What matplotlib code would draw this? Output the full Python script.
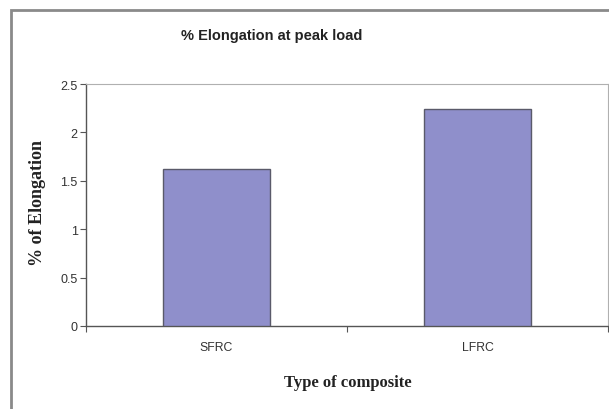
import matplotlib
matplotlib.use("Agg")
import matplotlib.pyplot as plt
from matplotlib.patches import Rectangle
from matplotlib.ticker import FixedLocator, NullFormatter

categories = ["SFRC", "LFRC"]
elongation = [1.62, 2.24]
yticks = [0, 0.5, 1, 1.5, 2, 2.5]
ytick_labels = ["0", "0.5", "1", "1.5", "2", "2.5"]

W, H = 609, 410
fig = plt.figure(figsize=(W / 100, H / 100), dpi=100)
fig.patch.set_facecolor("white")

# outer chart-area frame
fig.patches.append(Rectangle((11 / W, -0.05), 1.2, 1 - 11 / H + 0.05,
                             transform=fig.transFigure, fill=False,
                             edgecolor="#8a8a8a", linewidth=2.0))

ax = fig.add_axes([86 / W, 83 / H, (608 - 86) / W, (327 - 85) / H])
x = list(range(len(categories)))
ax.bar(x, elongation, width=0.41, color="#8f8fcb", edgecolor="#5a5a6a",
       linewidth=1.0, zorder=3)

ax.set_xlim(-0.5, 1.5)
ax.set_ylim(0, 2.5)
ax.set_yticks(yticks)
ax.set_yticklabels(ytick_labels, fontname="Liberation Sans", fontsize=9,
                   color="#333333")
ax.set_xticks(x)
ax.set_xticklabels(categories, fontname="Liberation Sans", fontsize=8.8,
                   color="#333333")
ax.tick_params(axis="x", which="major", length=0, pad=11)
ax.xaxis.set_minor_locator(FixedLocator([-0.5, 0.5, 1.5]))
ax.xaxis.set_minor_formatter(NullFormatter())
ax.tick_params(axis="x", which="minor", length=4, width=0.8, color="#555555")
ax.tick_params(axis="y", length=4, width=0.8, color="#555555", pad=2)

for s in ["left", "bottom"]:
    ax.spines[s].set_color("#555555")
    ax.spines[s].set_linewidth(1.0)
for s in ["top", "right"]:
    ax.spines[s].set_color("#b0b0b0")
    ax.spines[s].set_linewidth(0.8)

fig.text(348 / W, 1 - 383 / H, "Type of composite",
         fontname="Liberation Serif", fontweight="bold", fontsize=12,
         color="#222222", ha="center", va="center")
fig.text(37 / W, 1 - 203 / H, "% of Elongation",
         fontname="Liberation Serif", fontweight="bold", fontsize=13,
         color="#222222", ha="center", va="center", rotation=90)

fig.text(272 / W, 1 - 36 / H, "% Elongation at peak load",
         fontname="Liberation Sans", fontweight="bold", fontsize=10.5,
         color="#222222", ha="center", va="center")

fig.savefig("out.png", dpi=100)
